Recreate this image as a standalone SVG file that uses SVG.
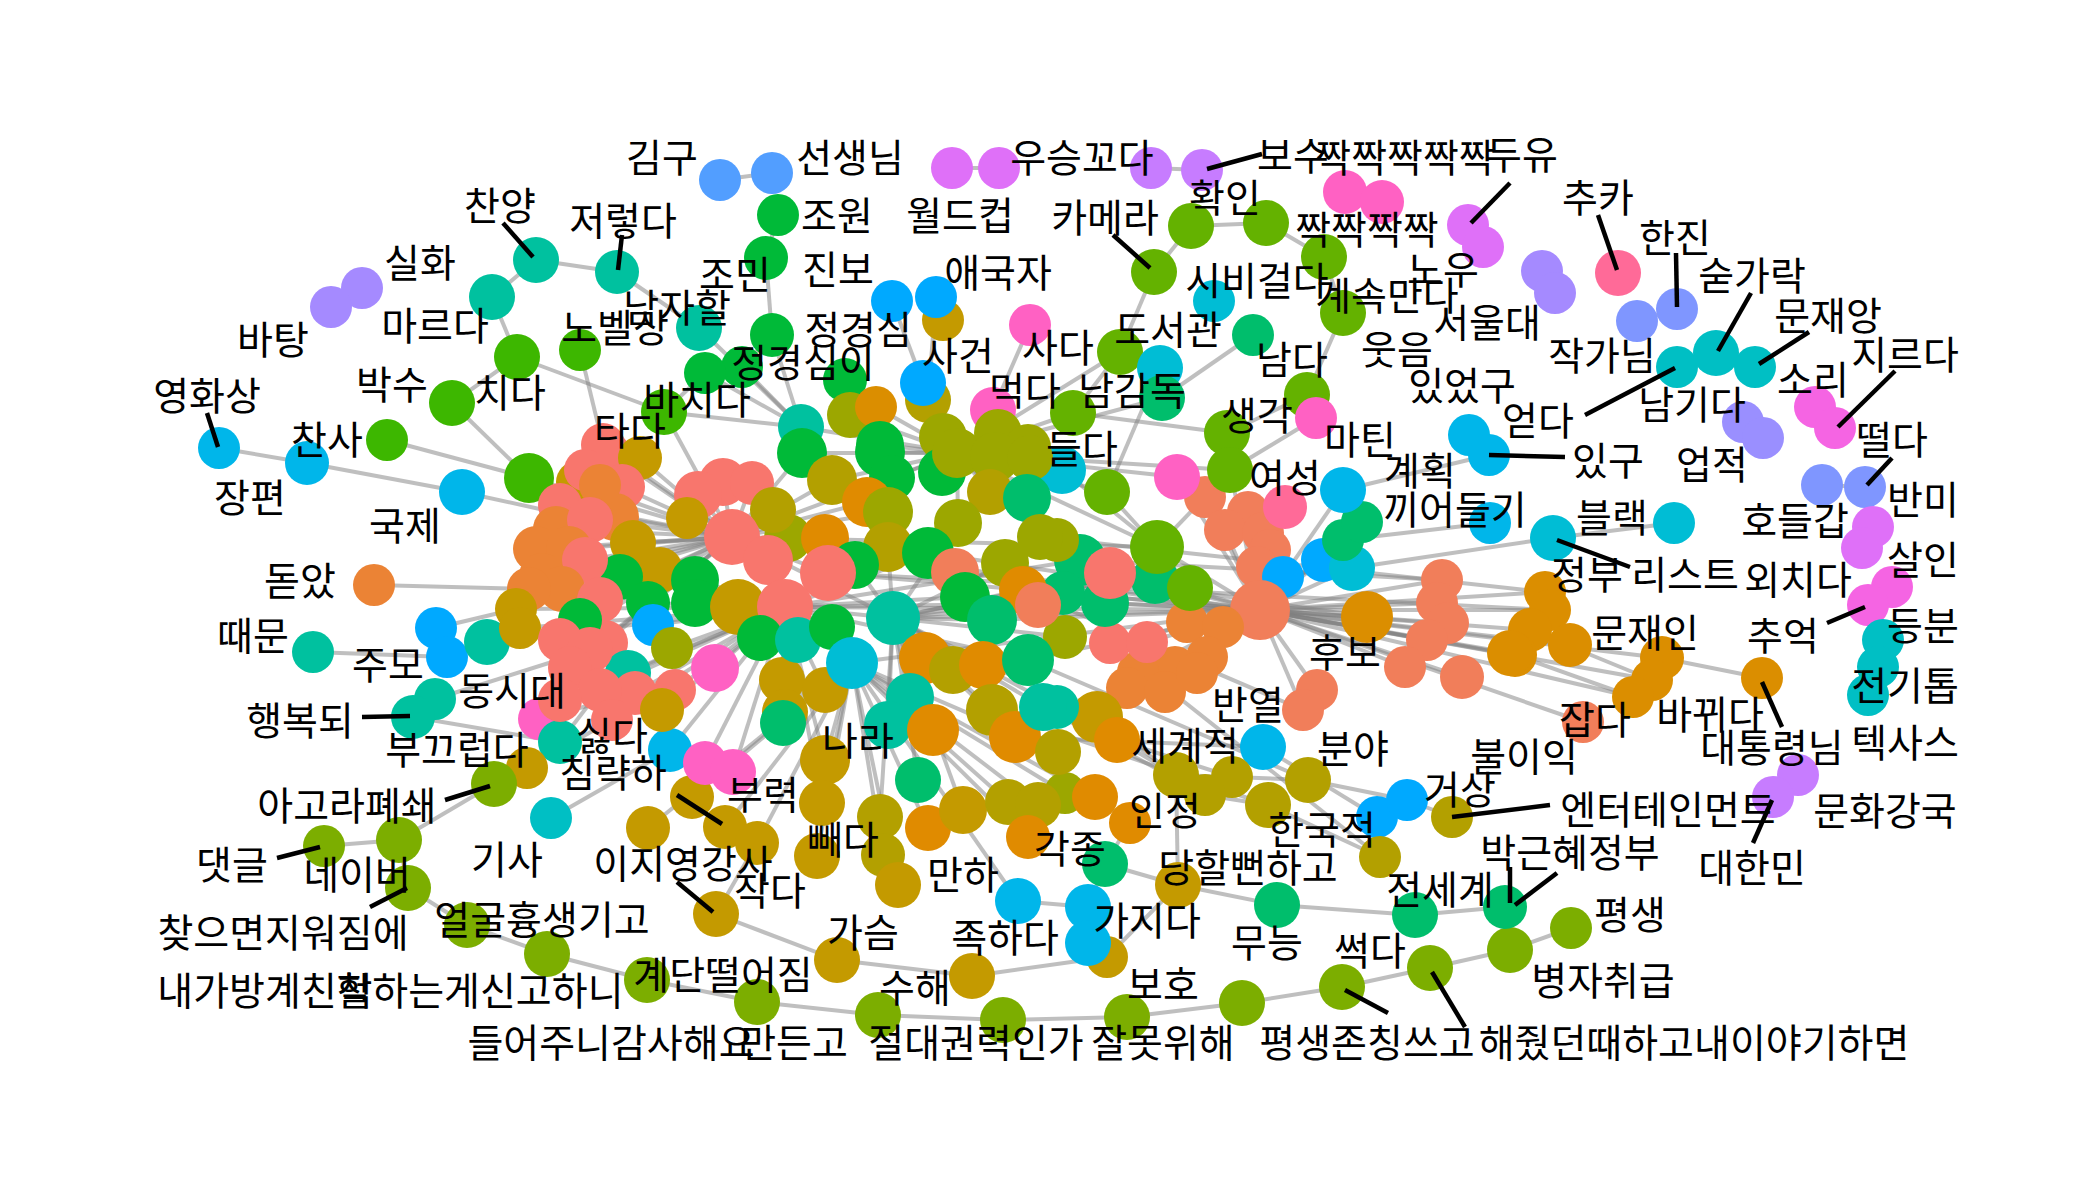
<svg xmlns="http://www.w3.org/2000/svg" width="2100" height="1200" viewBox="0 0 2100 1200">
<style>
#edges line{stroke:#7f7f7f;stroke-opacity:.5;stroke-width:4}
.ld{stroke:#000;stroke-width:4.5}
text{font-family:"Noto Sans CJK KR","Noto Sans",sans-serif;font-size:39px;text-anchor:middle;dominant-baseline:central;fill:#000}
.S{fill:#F8766D}.R{fill:#F17E5A}.O{fill:#EB8335}.D{fill:#DB8E00}.A{fill:#E08B00}.G{fill:#C49A00}.Y{fill:#B3A000}.L{fill:#9CA700}.M{fill:#7CAE00}.N{fill:#64B200}.K{fill:#3DB700}.E{fill:#00BA38}.F{fill:#00BE6C}.T{fill:#00C19F}.U{fill:#00BFC4}.C{fill:#00BDD5}.V{fill:#00B6EA}.B{fill:#00A9FF}.P{fill:#529EFF}.W{fill:#7F96FF}.X2{fill:#9A8FFF}.X{fill:#A58AFF}.Z{fill:#C77CFF}.H{fill:#DF70F8}.I{fill:#F564E3}.J{fill:#FF61C3}.Q{fill:#FF6A98}
</style>
<rect width="2100" height="1200" fill="#fff"/>
<g id="edges">
<line x1="720" y1="180" x2="772" y2="173"/><line x1="778" y1="215" x2="766" y2="258"/><line x1="766" y1="258" x2="772" y2="335"/><line x1="772" y1="335" x2="801" y2="427"/><line x1="742" y1="367" x2="801" y2="427"/><line x1="705" y1="373" x2="801" y2="427"/><line x1="742" y1="367" x2="772" y2="335"/><line x1="705" y1="373" x2="664" y2="412"/><line x1="664" y1="412" x2="801" y2="427"/><line x1="664" y1="412" x2="732" y2="537"/>
<line x1="952" y1="168" x2="999" y2="168"/><line x1="1151" y1="168" x2="1202" y2="170"/><line x1="1154" y1="272" x2="1191" y2="226"/><line x1="1191" y1="226" x2="1266" y2="223"/><line x1="1266" y1="223" x2="1324" y2="257"/><line x1="1324" y1="257" x2="1343" y2="313"/><line x1="1343" y1="313" x2="1307" y2="395"/><line x1="1154" y1="272" x2="1120" y2="352"/><line x1="1120" y1="352" x2="1073" y2="413"/><line x1="1253" y1="335" x2="1162" y2="398"/><line x1="1160" y1="368" x2="1107" y2="492"/><line x1="1073" y1="413" x2="1227" y2="433"/><line x1="1227" y1="433" x2="1307" y2="395"/><line x1="1307" y1="395" x2="1316" y2="418"/><line x1="1316" y1="418" x2="1230" y2="470"/>
<line x1="1345" y1="192" x2="1382" y2="202"/><line x1="1468" y1="225" x2="1483" y2="247"/><line x1="1542" y1="271" x2="1555" y2="293"/><line x1="1637" y1="321" x2="1677" y2="309"/><line x1="1677" y1="367" x2="1716" y2="353"/><line x1="1716" y1="353" x2="1755" y2="367"/><line x1="1815" y1="407" x2="1835" y2="428"/><line x1="1743" y1="422" x2="1763" y2="438"/><line x1="1822" y1="485" x2="1865" y2="487"/><line x1="1873" y1="527" x2="1862" y2="548"/><line x1="1892" y1="587" x2="1868" y2="605"/><line x1="1883" y1="640" x2="1878" y2="667"/><line x1="1878" y1="667" x2="1868" y2="695"/><line x1="1798" y1="775" x2="1773" y2="797"/>
<line x1="1674" y1="523" x2="1553" y2="538"/><line x1="1553" y1="538" x2="1352" y2="568"/><line x1="1469" y1="435" x2="1489" y2="455"/><line x1="1489" y1="455" x2="1343" y2="490"/><line x1="1490" y1="523" x2="1343" y2="540"/><line x1="1030" y1="325" x2="993" y2="410"/><line x1="993" y1="410" x2="1028" y2="447"/><line x1="892" y1="301" x2="923" y2="383"/><line x1="936" y1="297" x2="928" y2="400"/>
<line x1="536" y1="260" x2="492" y2="297"/><line x1="536" y1="260" x2="617" y2="272"/><line x1="617" y1="272" x2="699" y2="328"/><line x1="699" y1="328" x2="801" y2="427"/><line x1="492" y1="297" x2="517" y2="357"/><line x1="517" y1="357" x2="452" y2="403"/><line x1="452" y1="403" x2="529" y2="478"/><line x1="517" y1="357" x2="664" y2="412"/><line x1="580" y1="350" x2="603" y2="445"/><line x1="362" y1="288" x2="331" y2="307"/><line x1="387" y1="440" x2="529" y2="478"/><line x1="219" y1="448" x2="307" y2="463"/><line x1="307" y1="463" x2="462" y2="492"/><line x1="462" y1="492" x2="590" y2="520"/><line x1="374" y1="585" x2="529" y2="589"/><line x1="313" y1="652" x2="447" y2="657"/><line x1="436" y1="628" x2="447" y2="657"/><line x1="447" y1="657" x2="487" y2="642"/><line x1="436" y1="628" x2="516" y2="609"/><line x1="435" y1="699" x2="413" y2="717"/><line x1="435" y1="699" x2="590" y2="650"/><line x1="413" y1="717" x2="560" y2="742"/><line x1="539" y1="719" x2="635" y2="693"/><line x1="560" y1="742" x2="600" y2="690"/><line x1="527" y1="768" x2="494" y2="784"/><line x1="494" y1="784" x2="399" y2="840"/><line x1="399" y1="840" x2="324" y2="846"/><line x1="399" y1="840" x2="408" y2="888"/><line x1="408" y1="888" x2="467" y2="925"/><line x1="467" y1="925" x2="547" y2="954"/><line x1="547" y1="954" x2="647" y2="980"/><line x1="551" y1="818" x2="670" y2="750"/><line x1="527" y1="768" x2="612" y2="720"/>
<line x1="647" y1="980" x2="757" y2="1002"/><line x1="757" y1="1002" x2="878" y2="1015"/><line x1="878" y1="1015" x2="1003" y2="1020"/><line x1="1003" y1="1020" x2="1127" y2="1017"/><line x1="1127" y1="1017" x2="1242" y2="1003"/><line x1="1242" y1="1003" x2="1342" y2="987"/><line x1="1342" y1="987" x2="1430" y2="968"/><line x1="1430" y1="968" x2="1510" y2="950"/><line x1="1510" y1="950" x2="1571" y2="928"/>
<line x1="716" y1="914" x2="837" y2="960"/><line x1="837" y1="960" x2="972" y2="976"/><line x1="972" y1="976" x2="1107" y2="957"/><line x1="716" y1="914" x2="757" y2="843"/><line x1="1107" y1="957" x2="1178" y2="885"/><line x1="1105" y1="864" x2="1178" y2="885"/><line x1="1178" y1="885" x2="1277" y2="905"/><line x1="1277" y1="905" x2="1415" y2="915"/><line x1="1415" y1="915" x2="1505" y2="907"/><line x1="1178" y1="885" x2="1176" y2="775"/><line x1="1088" y1="907" x2="1088" y2="943"/><line x1="1088" y1="907" x2="1105" y2="864"/><line x1="1018" y1="901" x2="1088" y2="907"/>
<line x1="1176" y1="775" x2="1232" y2="777"/><line x1="1205" y1="795" x2="1268" y2="805"/><line x1="1268" y1="805" x2="1380" y2="857"/><line x1="1308" y1="780" x2="1407" y2="800"/><line x1="1263" y1="747" x2="1377" y2="817"/><line x1="1377" y1="817" x2="1407" y2="800"/><line x1="1407" y1="800" x2="1452" y2="817"/><line x1="1232" y1="777" x2="1308" y2="780"/><line x1="1176" y1="775" x2="1117" y2="740"/><line x1="1065" y1="793" x2="1095" y2="797"/><line x1="1095" y1="797" x2="1130" y2="823"/><line x1="1130" y1="823" x2="1105" y2="864"/>
<line x1="732" y1="537" x2="608" y2="453"/><line x1="732" y1="537" x2="622" y2="487"/><line x1="732" y1="537" x2="615" y2="517"/><line x1="732" y1="537" x2="556" y2="529"/><line x1="732" y1="537" x2="536" y2="549"/><line x1="732" y1="537" x2="569" y2="549"/><line x1="732" y1="537" x2="542" y2="576"/><line x1="732" y1="537" x2="562" y2="589"/><line x1="732" y1="537" x2="529" y2="589"/><line x1="732" y1="537" x2="590" y2="520"/><line x1="732" y1="537" x2="585" y2="560"/><line x1="732" y1="537" x2="600" y2="600"/><line x1="732" y1="537" x2="560" y2="640"/><line x1="732" y1="537" x2="590" y2="650"/><line x1="732" y1="537" x2="570" y2="668"/><line x1="732" y1="537" x2="529" y2="478"/><line x1="732" y1="537" x2="577" y2="482"/><line x1="732" y1="537" x2="605" y2="643"/><line x1="732" y1="537" x2="560" y2="505"/><line x1="732" y1="537" x2="603" y2="445"/><line x1="732" y1="537" x2="640" y2="458"/><line x1="732" y1="537" x2="698" y2="495"/><line x1="732" y1="537" x2="723" y2="482"/><line x1="732" y1="537" x2="752" y2="483"/><line x1="732" y1="537" x2="687" y2="518"/><line x1="732" y1="537" x2="633" y2="543"/><line x1="732" y1="537" x2="660" y2="570"/><line x1="732" y1="537" x2="768" y2="560"/><line x1="732" y1="537" x2="773" y2="510"/><line x1="732" y1="537" x2="802" y2="453"/><line x1="732" y1="537" x2="832" y2="480"/><line x1="732" y1="537" x2="867" y2="502"/><line x1="732" y1="537" x2="888" y2="512"/><line x1="732" y1="537" x2="828" y2="573"/><line x1="732" y1="537" x2="957" y2="453"/><line x1="732" y1="537" x2="893" y2="618"/><line x1="732" y1="537" x2="1157" y2="547"/><line x1="732" y1="537" x2="1260" y2="610"/>
<line x1="785" y1="607" x2="620" y2="577"/><line x1="785" y1="607" x2="648" y2="603"/><line x1="785" y1="607" x2="653" y2="625"/><line x1="785" y1="607" x2="672" y2="648"/><line x1="785" y1="607" x2="628" y2="673"/><line x1="785" y1="607" x2="635" y2="693"/><line x1="785" y1="607" x2="675" y2="690"/><line x1="785" y1="607" x2="662" y2="710"/><line x1="785" y1="607" x2="612" y2="720"/><line x1="785" y1="607" x2="560" y2="700"/><line x1="785" y1="607" x2="600" y2="690"/><line x1="785" y1="607" x2="695" y2="580"/><line x1="785" y1="607" x2="695" y2="603"/><line x1="785" y1="607" x2="738" y2="607"/><line x1="785" y1="607" x2="715" y2="668"/><line x1="785" y1="607" x2="760" y2="638"/><line x1="785" y1="607" x2="798" y2="640"/><line x1="785" y1="607" x2="832" y2="627"/><line x1="785" y1="607" x2="852" y2="663"/><line x1="785" y1="607" x2="782" y2="680"/><line x1="785" y1="607" x2="825" y2="690"/><line x1="785" y1="607" x2="783" y2="723"/><line x1="785" y1="607" x2="785" y2="712"/><line x1="785" y1="607" x2="705" y2="763"/><line x1="785" y1="607" x2="733" y2="772"/><line x1="785" y1="607" x2="670" y2="750"/><line x1="785" y1="607" x2="825" y2="760"/><line x1="785" y1="607" x2="822" y2="803"/><line x1="785" y1="607" x2="893" y2="618"/><line x1="785" y1="607" x2="928" y2="553"/><line x1="785" y1="607" x2="965" y2="597"/><line x1="785" y1="607" x2="1028" y2="660"/><line x1="785" y1="607" x2="1080" y2="560"/><line x1="785" y1="607" x2="1105" y2="603"/><line x1="785" y1="607" x2="1260" y2="610"/><line x1="785" y1="607" x2="516" y2="609"/><line x1="785" y1="607" x2="520" y2="628"/><line x1="785" y1="607" x2="487" y2="642"/>
<line x1="893" y1="618" x2="855" y2="565"/><line x1="893" y1="618" x2="888" y2="547"/><line x1="893" y1="618" x2="958" y2="523"/><line x1="893" y1="618" x2="1005" y2="563"/><line x1="893" y1="618" x2="1023" y2="590"/><line x1="893" y1="618" x2="1038" y2="605"/><line x1="893" y1="618" x2="992" y2="620"/><line x1="893" y1="618" x2="925" y2="658"/><line x1="893" y1="618" x2="953" y2="670"/><line x1="893" y1="618" x2="983" y2="665"/><line x1="893" y1="618" x2="910" y2="697"/><line x1="893" y1="618" x2="888" y2="725"/><line x1="893" y1="618" x2="933" y2="730"/><line x1="893" y1="618" x2="992" y2="710"/><line x1="893" y1="618" x2="1015" y2="737"/><line x1="893" y1="618" x2="1043" y2="707"/><line x1="893" y1="618" x2="918" y2="780"/><line x1="893" y1="618" x2="963" y2="810"/><line x1="893" y1="618" x2="880" y2="817"/><line x1="893" y1="618" x2="1065" y2="637"/><line x1="893" y1="618" x2="1057" y2="707"/><line x1="893" y1="618" x2="1097" y2="717"/><line x1="893" y1="618" x2="1063" y2="593"/><line x1="893" y1="618" x2="1110" y2="573"/>
<line x1="957" y1="453" x2="801" y2="427"/><line x1="957" y1="453" x2="850" y2="415"/><line x1="957" y1="453" x2="876" y2="407"/><line x1="957" y1="453" x2="880" y2="445"/><line x1="957" y1="453" x2="943" y2="437"/><line x1="957" y1="453" x2="998" y2="433"/><line x1="957" y1="453" x2="1028" y2="447"/><line x1="957" y1="453" x2="928" y2="400"/><line x1="957" y1="453" x2="880" y2="452"/><line x1="957" y1="453" x2="892" y2="478"/><line x1="957" y1="453" x2="942" y2="472"/><line x1="957" y1="453" x2="995" y2="457"/><line x1="957" y1="453" x2="1030" y2="458"/><line x1="957" y1="453" x2="990" y2="492"/><line x1="957" y1="453" x2="1027" y2="498"/><line x1="957" y1="453" x2="958" y2="523"/><line x1="957" y1="453" x2="1040" y2="537"/><line x1="957" y1="453" x2="1057" y2="540"/><line x1="957" y1="453" x2="1062" y2="470"/><line x1="957" y1="453" x2="1107" y2="492"/><line x1="957" y1="453" x2="1073" y2="413"/><line x1="957" y1="453" x2="1120" y2="352"/><line x1="957" y1="453" x2="1162" y2="398"/><line x1="957" y1="453" x2="1177" y2="477"/><line x1="957" y1="453" x2="1230" y2="470"/><line x1="957" y1="453" x2="1157" y2="547"/><line x1="957" y1="453" x2="802" y2="453"/><line x1="957" y1="453" x2="832" y2="480"/>
<line x1="852" y1="663" x2="825" y2="760"/><line x1="852" y1="663" x2="822" y2="803"/><line x1="852" y1="663" x2="817" y2="856"/><line x1="852" y1="663" x2="757" y2="843"/><line x1="852" y1="663" x2="725" y2="827"/><line x1="852" y1="663" x2="692" y2="797"/><line x1="852" y1="663" x2="648" y2="828"/><line x1="852" y1="663" x2="883" y2="855"/><line x1="852" y1="663" x2="898" y2="885"/><line x1="852" y1="663" x2="928" y2="828"/><line x1="852" y1="663" x2="1008" y2="802"/><line x1="852" y1="663" x2="1038" y2="805"/><line x1="852" y1="663" x2="1028" y2="837"/><line x1="852" y1="663" x2="1058" y2="752"/><line x1="852" y1="663" x2="1065" y2="793"/><line x1="852" y1="663" x2="1095" y2="797"/><line x1="852" y1="663" x2="1018" y2="901"/>
<line x1="1260" y1="610" x2="1545" y2="592"/><line x1="1260" y1="610" x2="1550" y2="610"/><line x1="1260" y1="610" x2="1530" y2="630"/><line x1="1260" y1="610" x2="1570" y2="645"/><line x1="1260" y1="610" x2="1515" y2="655"/><line x1="1260" y1="610" x2="1662" y2="658"/><line x1="1260" y1="610" x2="1652" y2="680"/><line x1="1260" y1="610" x2="1633" y2="697"/><line x1="1260" y1="610" x2="1583" y2="722"/><line x1="1260" y1="610" x2="1442" y2="580"/><line x1="1260" y1="610" x2="1437" y2="603"/><line x1="1260" y1="610" x2="1448" y2="623"/><line x1="1260" y1="610" x2="1427" y2="640"/><line x1="1260" y1="610" x2="1405" y2="667"/><line x1="1260" y1="610" x2="1462" y2="677"/><line x1="1260" y1="610" x2="1367" y2="617"/><line x1="1260" y1="610" x2="1510" y2="653"/><line x1="1260" y1="610" x2="1317" y2="690"/><line x1="1260" y1="610" x2="1303" y2="710"/><line x1="1260" y1="610" x2="1157" y2="547"/><line x1="1260" y1="610" x2="1110" y2="573"/><line x1="1260" y1="610" x2="1080" y2="560"/><line x1="1260" y1="610" x2="1105" y2="603"/><line x1="1260" y1="610" x2="1063" y2="593"/><line x1="1260" y1="610" x2="1028" y2="660"/><line x1="1260" y1="610" x2="992" y2="620"/><line x1="1260" y1="610" x2="893" y2="618"/><line x1="1260" y1="610" x2="852" y2="663"/><line x1="1260" y1="610" x2="828" y2="573"/><line x1="1260" y1="610" x2="955" y2="572"/><line x1="1260" y1="610" x2="965" y2="597"/><line x1="1260" y1="610" x2="1147" y2="642"/><line x1="1260" y1="610" x2="1110" y2="643"/><line x1="1260" y1="610" x2="1187" y2="622"/><line x1="1260" y1="610" x2="1223" y2="627"/><line x1="1260" y1="610" x2="1207" y2="657"/><line x1="1260" y1="610" x2="1175" y2="667"/><line x1="1260" y1="610" x2="1138" y2="672"/><line x1="1260" y1="610" x2="1197" y2="673"/><line x1="1260" y1="610" x2="1165" y2="692"/><line x1="1260" y1="610" x2="1205" y2="497"/><line x1="1260" y1="610" x2="1248" y2="512"/><line x1="1260" y1="610" x2="1225" y2="530"/><line x1="1260" y1="610" x2="1263" y2="533"/><line x1="1260" y1="610" x2="1270" y2="550"/><line x1="1260" y1="610" x2="1257" y2="567"/><line x1="1260" y1="610" x2="1283" y2="577"/><line x1="1260" y1="610" x2="1323" y2="560"/><line x1="1260" y1="610" x2="1352" y2="568"/><line x1="1260" y1="610" x2="1343" y2="540"/><line x1="1260" y1="610" x2="1362" y2="522"/><line x1="1260" y1="610" x2="1285" y2="507"/><line x1="1260" y1="610" x2="1343" y2="490"/><line x1="1260" y1="610" x2="1230" y2="470"/><line x1="1260" y1="610" x2="1177" y2="477"/>
<line x1="1157" y1="547" x2="1107" y2="492"/><line x1="1157" y1="547" x2="1062" y2="470"/><line x1="1157" y1="547" x2="1155" y2="580"/><line x1="1157" y1="547" x2="1190" y2="588"/><line x1="1157" y1="547" x2="1205" y2="497"/>
<line x1="1662" y1="658" x2="1762" y2="678"/><line x1="1515" y1="655" x2="1633" y2="697"/><line x1="1530" y1="630" x2="1652" y2="680"/><line x1="1040" y1="537" x2="1545" y2="592"/><line x1="1080" y1="560" x2="1442" y2="580"/><line x1="888" y1="547" x2="1367" y2="617"/><line x1="1023" y1="590" x2="1303" y2="710"/><line x1="1097" y1="717" x2="1176" y2="775"/><line x1="1117" y1="740" x2="1232" y2="777"/><line x1="1043" y1="707" x2="1205" y2="795"/><line x1="1015" y1="737" x2="1263" y2="747"/><line x1="1028" y1="660" x2="1308" y2="780"/><line x1="992" y1="710" x2="1268" y2="805"/><line x1="1110" y1="643" x2="1380" y2="857"/><line x1="828" y1="573" x2="1550" y2="610"/>
</g>
<g id="nodes">
<g id="n1"><circle class="P" cx="720" cy="180" r="21"/></g>
<g id="n2"><circle class="P" cx="772" cy="173" r="21"/></g>
<g id="n3"><circle class="E" cx="778" cy="215" r="21"/></g>
<g id="n4"><circle class="E" cx="766" cy="258" r="22"/></g>
<g id="n5"><circle class="E" cx="772" cy="335" r="22"/></g>
<g id="n6"><circle class="E" cx="742" cy="367" r="21"/></g>
<g id="n7"><circle class="E" cx="705" cy="373" r="21"/></g>
<g id="n8"><circle class="H" cx="952" cy="168" r="21"/></g>
<g id="n9"><circle class="H" cx="999" cy="168" r="21"/></g>
<g id="n10"><circle class="Z" cx="1151" cy="168" r="21"/></g>
<g id="n11"><circle class="Z" cx="1202" cy="170" r="21"/></g>
<g id="n12"><circle class="N" cx="1154" cy="272" r="23"/></g>
<g id="n13"><circle class="N" cx="1191" cy="226" r="23"/></g>
<g id="n14"><circle class="N" cx="1266" cy="223" r="23"/></g>
<g id="n15"><circle class="N" cx="1324" cy="257" r="23"/></g>
<g id="n16"><circle class="N" cx="1343" cy="313" r="23"/></g>
<g id="n17"><circle class="C" cx="1214" cy="301" r="21"/></g>
<g id="n18"><circle class="J" cx="1345" cy="192" r="22"/></g>
<g id="n19"><circle class="J" cx="1382" cy="202" r="22"/></g>
<g id="n20"><circle class="H" cx="1468" cy="225" r="21"/></g>
<g id="n21"><circle class="H" cx="1483" cy="247" r="21"/></g>
<g id="n22"><circle class="X" cx="1542" cy="271" r="21"/></g>
<g id="n23"><circle class="X" cx="1555" cy="293" r="21"/></g>
<g id="n24"><circle class="Q" cx="1618" cy="273" r="23"/></g>
<g id="n25"><circle class="W" cx="1637" cy="321" r="21"/></g>
<g id="n26"><circle class="W" cx="1677" cy="309" r="21"/></g>
<g id="n27"><circle class="U" cx="1677" cy="367" r="21"/></g>
<g id="n28"><circle class="U" cx="1716" cy="353" r="23"/></g>
<g id="n29"><circle class="U" cx="1755" cy="367" r="21"/></g>
<g id="n30"><circle class="I" cx="1815" cy="407" r="21"/></g>
<g id="n31"><circle class="I" cx="1835" cy="428" r="21"/></g>
<g id="n32"><circle class="X2" cx="1743" cy="422" r="21"/></g>
<g id="n33"><circle class="X2" cx="1763" cy="438" r="21"/></g>
<g id="n34"><circle class="W" cx="1822" cy="485" r="21"/></g>
<g id="n35"><circle class="W" cx="1865" cy="487" r="21"/></g>
<g id="n36"><circle class="H" cx="1873" cy="527" r="21"/></g>
<g id="n37"><circle class="H" cx="1862" cy="548" r="21"/></g>
<g id="n38"><circle class="I" cx="1892" cy="587" r="21"/></g>
<g id="n39"><circle class="I" cx="1868" cy="605" r="21"/></g>
<g id="n40"><circle class="U" cx="1883" cy="640" r="21"/></g>
<g id="n41"><circle class="U" cx="1878" cy="667" r="21"/></g>
<g id="n42"><circle class="U" cx="1868" cy="695" r="21"/></g>
<g id="n43"><circle class="Z" cx="1798" cy="775" r="21"/></g>
<g id="n44"><circle class="Z" cx="1773" cy="797" r="21"/></g>
<g id="n45"><circle class="C" cx="1674" cy="523" r="21"/></g>
<g id="n46"><circle class="C" cx="1553" cy="538" r="23"/></g>
<g id="n47"><circle class="V" cx="1469" cy="435" r="21"/></g>
<g id="n48"><circle class="V" cx="1489" cy="455" r="21"/></g>
<g id="n49"><circle class="V" cx="1490" cy="523" r="21"/></g>
<g id="n50"><circle class="F" cx="1253" cy="335" r="21"/></g>
<g id="n51"><circle class="N" cx="1120" cy="352" r="23"/></g>
<g id="n52"><circle class="C" cx="1160" cy="368" r="23"/></g>
<g id="n53"><circle class="F" cx="1162" cy="398" r="23"/></g>
<g id="n54"><circle class="N" cx="1307" cy="395" r="23"/></g>
<g id="n55"><circle class="J" cx="1316" cy="418" r="21"/></g>
<g id="n56"><circle class="N" cx="1227" cy="433" r="23"/></g>
<g id="n57"><circle class="N" cx="1073" cy="413" r="23"/></g>
<g id="n58"><circle class="J" cx="1030" cy="325" r="21"/></g>
<g id="n59"><circle class="J" cx="993" cy="410" r="23"/></g>
<g id="n60"><circle class="B" cx="892" cy="301" r="21"/></g>
<g id="n62"><circle class="G" cx="943" cy="320" r="21"/></g>
<g id="n61"><circle class="B" cx="936" cy="297" r="21"/></g>
<g id="n64"><circle class="Y" cx="928" cy="400" r="23"/></g>
<g id="n63"><circle class="B" cx="923" cy="383" r="23"/></g>
<g id="n65"><circle class="T" cx="536" cy="260" r="23"/></g>
<g id="n66"><circle class="T" cx="617" cy="272" r="22"/></g>
<g id="n67"><circle class="T" cx="492" cy="297" r="23"/></g>
<g id="n68"><circle class="T" cx="699" cy="328" r="23"/></g>
<g id="n69"><circle class="X" cx="362" cy="288" r="21"/></g>
<g id="n70"><circle class="X" cx="331" cy="307" r="21"/></g>
<g id="n71"><circle class="K" cx="517" cy="357" r="23"/></g>
<g id="n72"><circle class="K" cx="580" cy="350" r="21"/></g>
<g id="n73"><circle class="K" cx="452" cy="403" r="23"/></g>
<g id="n74"><circle class="K" cx="387" cy="440" r="21"/></g>
<g id="n75"><circle class="V" cx="219" cy="448" r="21"/></g>
<g id="n76"><circle class="V" cx="307" cy="463" r="22"/></g>
<g id="n77"><circle class="V" cx="462" cy="492" r="23"/></g>
<g id="n78"><circle class="O" cx="374" cy="585" r="21"/></g>
<g id="n79"><circle class="T" cx="313" cy="652" r="21"/></g>
<g id="n80"><circle class="B" cx="436" cy="628" r="21"/></g>
<g id="n81"><circle class="B" cx="447" cy="657" r="21"/></g>
<g id="n82"><circle class="T" cx="487" cy="642" r="23"/></g>
<g id="n83"><circle class="T" cx="435" cy="699" r="21"/></g>
<g id="n84"><circle class="T" cx="413" cy="717" r="22"/></g>
<g id="n85"><circle class="J" cx="539" cy="719" r="21"/></g>
<g id="n86"><circle class="T" cx="560" cy="742" r="22"/></g>
<g id="n87"><circle class="G" cx="527" cy="768" r="21"/></g>
<g id="n88"><circle class="M" cx="494" cy="784" r="23"/></g>
<g id="n89"><circle class="M" cx="399" cy="840" r="23"/></g>
<g id="n90"><circle class="M" cx="324" cy="846" r="21"/></g>
<g id="n91"><circle class="M" cx="408" cy="888" r="23"/></g>
<g id="n92"><circle class="M" cx="467" cy="925" r="23"/></g>
<g id="n93"><circle class="M" cx="547" cy="954" r="23"/></g>
<g id="n94"><circle class="U" cx="551" cy="818" r="21"/></g>
<g id="n95"><circle class="M" cx="647" cy="980" r="23"/></g>
<g id="n96"><circle class="M" cx="757" cy="1002" r="23"/></g>
<g id="n97"><circle class="M" cx="878" cy="1015" r="23"/></g>
<g id="n98"><circle class="M" cx="1003" cy="1020" r="23"/></g>
<g id="n99"><circle class="M" cx="1127" cy="1017" r="23"/></g>
<g id="n100"><circle class="M" cx="1242" cy="1003" r="23"/></g>
<g id="n101"><circle class="M" cx="1342" cy="987" r="23"/></g>
<g id="n102"><circle class="M" cx="1430" cy="968" r="23"/></g>
<g id="n103"><circle class="M" cx="1510" cy="950" r="23"/></g>
<g id="n104"><circle class="M" cx="1571" cy="928" r="21"/></g>
<g id="n105"><circle class="G" cx="716" cy="914" r="23"/></g>
<g id="n106"><circle class="G" cx="837" cy="960" r="23"/></g>
<g id="n107"><circle class="G" cx="972" cy="976" r="23"/></g>
<g id="n108"><circle class="G" cx="1107" cy="957" r="21"/></g>
<g id="n109"><circle class="V" cx="1088" cy="907" r="23"/></g>
<g id="n110"><circle class="V" cx="1088" cy="943" r="23"/></g>
<g id="n111"><circle class="V" cx="1018" cy="901" r="23"/></g>
<g id="n112"><circle class="F" cx="1105" cy="864" r="23"/></g>
<g id="n113"><circle class="G" cx="1178" cy="885" r="23"/></g>
<g id="n114"><circle class="F" cx="1277" cy="905" r="23"/></g>
<g id="n115"><circle class="F" cx="1415" cy="915" r="23"/></g>
<g id="n116"><circle class="F" cx="1505" cy="907" r="22"/></g>
<g id="n117"><circle class="V" cx="1263" cy="747" r="23"/></g>
<g id="n118"><circle class="B" cx="1377" cy="817" r="21"/></g>
<g id="n119"><circle class="B" cx="1407" cy="800" r="21"/></g>
<g id="n120"><circle class="Y" cx="1452" cy="817" r="21"/></g>
<g id="n121"><circle class="Y" cx="1380" cy="857" r="21"/></g>
<g id="n122"><circle class="Y" cx="1308" cy="780" r="23"/></g>
<g id="n123"><circle class="Y" cx="1268" cy="805" r="23"/></g>
<g id="n124"><circle class="Y" cx="1232" cy="777" r="21"/></g>
<g id="n125"><circle class="Y" cx="1205" cy="795" r="21"/></g>
<g id="n126"><circle class="Y" cx="1176" cy="775" r="23"/></g>
<g id="n127"><circle class="L" cx="1065" cy="793" r="21"/></g>
<g id="n128"><circle class="A" cx="1095" cy="797" r="23"/></g>
<g id="n129"><circle class="A" cx="1130" cy="823" r="21"/></g>
<g id="n130"><circle class="D" cx="1762" cy="678" r="21"/></g>
<g id="n131"><circle class="R" cx="1583" cy="722" r="21"/></g>
<g id="n132"><circle class="D" cx="1545" cy="592" r="21"/></g>
<g id="n133"><circle class="D" cx="1550" cy="610" r="21"/></g>
<g id="n134"><circle class="D" cx="1530" cy="630" r="22"/></g>
<g id="n135"><circle class="D" cx="1570" cy="645" r="22"/></g>
<g id="n136"><circle class="D" cx="1515" cy="655" r="22"/></g>
<g id="n137"><circle class="D" cx="1662" cy="658" r="22"/></g>
<g id="n138"><circle class="D" cx="1652" cy="680" r="21"/></g>
<g id="n139"><circle class="D" cx="1633" cy="697" r="21"/></g>
<g id="n140"><circle class="R" cx="1442" cy="580" r="21"/></g>
<g id="n141"><circle class="R" cx="1437" cy="603" r="21"/></g>
<g id="n142"><circle class="R" cx="1448" cy="623" r="21"/></g>
<g id="n143"><circle class="R" cx="1427" cy="640" r="21"/></g>
<g id="n144"><circle class="R" cx="1405" cy="667" r="21"/></g>
<g id="n145"><circle class="R" cx="1462" cy="677" r="22"/></g>
<g id="n146"><circle class="D" cx="1367" cy="617" r="26"/></g>
<g id="n147"><circle class="D" cx="1510" cy="653" r="23"/></g>
<g id="n148"><circle class="R" cx="1317" cy="690" r="21"/></g>
<g id="n149"><circle class="R" cx="1303" cy="710" r="21"/></g>
<g id="n150"><circle class="R" cx="1205" cy="497" r="21"/></g>
<g id="n151"><circle class="R" cx="1248" cy="512" r="21"/></g>
<g id="n152"><circle class="R" cx="1225" cy="530" r="21"/></g>
<g id="n153"><circle class="R" cx="1263" cy="533" r="21"/></g>
<g id="n154"><circle class="R" cx="1270" cy="550" r="21"/></g>
<g id="n155"><circle class="R" cx="1257" cy="567" r="21"/></g>
<g id="n156"><circle class="B" cx="1283" cy="577" r="21"/></g>
<g id="n157"><circle class="B" cx="1323" cy="560" r="22"/></g>
<g id="n158"><circle class="C" cx="1352" cy="568" r="23"/></g>
<g id="n159"><circle class="F" cx="1343" cy="540" r="21"/></g>
<g id="n160"><circle class="F" cx="1362" cy="522" r="21"/></g>
<g id="n161"><circle class="V" cx="1343" cy="490" r="23"/></g>
<g id="n162"><circle class="Q" cx="1285" cy="507" r="22"/></g>
<g id="n163"><circle class="R" cx="1260" cy="610" r="30"/></g>
<g id="n164"><circle class="O" cx="1187" cy="622" r="21"/></g>
<g id="n165"><circle class="O" cx="1223" cy="627" r="21"/></g>
<g id="n166"><circle class="O" cx="1207" cy="657" r="21"/></g>
<g id="n167"><circle class="O" cx="1175" cy="667" r="21"/></g>
<g id="n168"><circle class="O" cx="1138" cy="672" r="21"/></g>
<g id="n169"><circle class="O" cx="1127" cy="688" r="21"/></g>
<g id="n170"><circle class="O" cx="1165" cy="692" r="21"/></g>
<g id="n171"><circle class="O" cx="1197" cy="673" r="21"/></g>
<g id="n172"><circle class="S" cx="1110" cy="643" r="21"/></g>
<g id="n173"><circle class="S" cx="1147" cy="642" r="21"/></g>
<g id="n174"><circle class="F" cx="1155" cy="580" r="24"/></g>
<g id="n175"><circle class="N" cx="1157" cy="547" r="27"/></g>
<g id="n176"><circle class="N" cx="1190" cy="588" r="23"/></g>
<g id="n177"><circle class="F" cx="1105" cy="603" r="24"/></g>
<g id="n178"><circle class="F" cx="1080" cy="560" r="26"/></g>
<g id="n179"><circle class="F" cx="1063" cy="593" r="22"/></g>
<g id="n180"><circle class="N" cx="1107" cy="492" r="23"/></g>
<g id="n181"><circle class="N" cx="1230" cy="470" r="23"/></g>
<g id="n182"><circle class="J" cx="1177" cy="477" r="23"/></g>
<g id="n183"><circle class="C" cx="1062" cy="470" r="24"/></g>
<g id="n184"><circle class="L" cx="1065" cy="637" r="22"/></g>
<g id="n185"><circle class="G" cx="1097" cy="717" r="26"/></g>
<g id="n186"><circle class="A" cx="1117" cy="740" r="23"/></g>
<g id="n187"><circle class="T" cx="1057" cy="707" r="22"/></g>
<g id="n188"><circle class="L" cx="1057" cy="540" r="22"/></g>
<g id="n189"><circle class="S" cx="1110" cy="573" r="26"/></g>
<g id="n190"><circle class="T" cx="801" cy="427" r="23"/></g>
<g id="n191"><circle class="E" cx="845" cy="380" r="22"/></g>
<g id="n192"><circle class="L" cx="850" cy="415" r="23"/></g>
<g id="n193"><circle class="D" cx="876" cy="407" r="21"/></g>
<g id="n194"><circle class="E" cx="880" cy="445" r="24"/></g>
<g id="n195"><circle class="L" cx="943" cy="437" r="24"/></g>
<g id="n196"><circle class="L" cx="998" cy="433" r="24"/></g>
<g id="n197"><circle class="L" cx="1028" cy="447" r="23"/></g>
<g id="n198"><circle class="E" cx="802" cy="453" r="25"/></g>
<g id="n199"><circle class="E" cx="880" cy="452" r="25"/></g>
<g id="n200"><circle class="Y" cx="832" cy="480" r="25"/></g>
<g id="n201"><circle class="E" cx="892" cy="478" r="23"/></g>
<g id="n202"><circle class="A" cx="867" cy="502" r="25"/></g>
<g id="n203"><circle class="L" cx="888" cy="512" r="25"/></g>
<g id="n204"><circle class="Y" cx="888" cy="547" r="25"/></g>
<g id="n205"><circle class="L" cx="788" cy="538" r="24"/></g>
<g id="n206"><circle class="A" cx="825" cy="538" r="24"/></g>
<g id="n207"><circle class="E" cx="855" cy="565" r="24"/></g>
<g id="n208"><circle class="S" cx="828" cy="573" r="28"/></g>
<g id="n209"><circle class="E" cx="942" cy="472" r="24"/></g>
<g id="n210"><circle class="L" cx="957" cy="453" r="25"/></g>
<g id="n211"><circle class="L" cx="995" cy="457" r="25"/></g>
<g id="n212"><circle class="L" cx="1030" cy="458" r="23"/></g>
<g id="n213"><circle class="Y" cx="990" cy="492" r="23"/></g>
<g id="n214"><circle class="F" cx="1027" cy="498" r="24"/></g>
<g id="n215"><circle class="L" cx="958" cy="523" r="24"/></g>
<g id="n216"><circle class="E" cx="928" cy="553" r="26"/></g>
<g id="n217"><circle class="R" cx="955" cy="572" r="24"/></g>
<g id="n218"><circle class="E" cx="965" cy="597" r="25"/></g>
<g id="n219"><circle class="L" cx="1005" cy="563" r="24"/></g>
<g id="n220"><circle class="L" cx="1040" cy="537" r="23"/></g>
<g id="n221"><circle class="A" cx="1023" cy="590" r="24"/></g>
<g id="n222"><circle class="R" cx="1038" cy="605" r="23"/></g>
<g id="n223"><circle class="T" cx="893" cy="618" r="27"/></g>
<g id="n224"><circle class="F" cx="992" cy="620" r="25"/></g>
<g id="n225"><circle class="A" cx="925" cy="658" r="26"/></g>
<g id="n226"><circle class="Y" cx="953" cy="670" r="24"/></g>
<g id="n227"><circle class="A" cx="983" cy="665" r="24"/></g>
<g id="n228"><circle class="F" cx="1028" cy="660" r="26"/></g>
<g id="n229"><circle class="T" cx="910" cy="697" r="24"/></g>
<g id="n230"><circle class="T" cx="888" cy="725" r="24"/></g>
<g id="n231"><circle class="A" cx="933" cy="730" r="26"/></g>
<g id="n232"><circle class="Y" cx="992" cy="710" r="26"/></g>
<g id="n233"><circle class="A" cx="1015" cy="737" r="26"/></g>
<g id="n234"><circle class="T" cx="1043" cy="707" r="24"/></g>
<g id="n235"><circle class="Y" cx="1058" cy="752" r="23"/></g>
<g id="n236"><circle class="G" cx="692" cy="797" r="22"/></g>
<g id="n237"><circle class="G" cx="648" cy="828" r="22"/></g>
<g id="n238"><circle class="G" cx="725" cy="827" r="22"/></g>
<g id="n239"><circle class="G" cx="757" cy="843" r="22"/></g>
<g id="n240"><circle class="G" cx="825" cy="760" r="25"/></g>
<g id="n241"><circle class="G" cx="822" cy="803" r="23"/></g>
<g id="n242"><circle class="G" cx="817" cy="856" r="23"/></g>
<g id="n243"><circle class="Y" cx="880" cy="817" r="23"/></g>
<g id="n244"><circle class="Y" cx="883" cy="855" r="22"/></g>
<g id="n245"><circle class="G" cx="898" cy="885" r="23"/></g>
<g id="n246"><circle class="F" cx="918" cy="780" r="23"/></g>
<g id="n247"><circle class="A" cx="928" cy="828" r="23"/></g>
<g id="n248"><circle class="G" cx="963" cy="810" r="24"/></g>
<g id="n249"><circle class="Y" cx="1008" cy="802" r="23"/></g>
<g id="n250"><circle class="Y" cx="1038" cy="805" r="23"/></g>
<g id="n251"><circle class="A" cx="1028" cy="837" r="22"/></g>
<g id="n252"><circle class="V" cx="670" cy="750" r="22"/></g>
<g id="n253"><circle class="J" cx="705" cy="763" r="22"/></g>
<g id="n254"><circle class="J" cx="733" cy="772" r="23"/></g>
<g id="n255"><circle class="G" cx="782" cy="680" r="23"/></g>
<g id="n256"><circle class="G" cx="785" cy="712" r="23"/></g>
<g id="n257"><circle class="F" cx="783" cy="723" r="23"/></g>
<g id="n258"><circle class="G" cx="825" cy="690" r="23"/></g>
<g id="n259"><circle class="S" cx="603" cy="445" r="22"/></g>
<g id="n260"><circle class="S" cx="608" cy="453" r="22"/></g>
<g id="n261"><circle class="G" cx="640" cy="458" r="22"/></g>
<g id="n262"><circle class="S" cx="622" cy="487" r="23"/></g>
<g id="n263"><circle class="O" cx="615" cy="517" r="24"/></g>
<g id="n264"><circle class="S" cx="723" cy="482" r="24"/></g>
<g id="n265"><circle class="S" cx="752" cy="483" r="22"/></g>
<g id="n266"><circle class="S" cx="698" cy="495" r="24"/></g>
<g id="n267"><circle class="Y" cx="773" cy="510" r="23"/></g>
<g id="n268"><circle class="G" cx="687" cy="518" r="21"/></g>
<g id="n269"><circle class="S" cx="732" cy="537" r="28"/></g>
<g id="n270"><circle class="G" cx="633" cy="543" r="23"/></g>
<g id="n271"><circle class="G" cx="660" cy="570" r="23"/></g>
<g id="n272"><circle class="E" cx="620" cy="577" r="23"/></g>
<g id="n273"><circle class="E" cx="695" cy="580" r="24"/></g>
<g id="n274"><circle class="E" cx="695" cy="603" r="24"/></g>
<g id="n275"><circle class="E" cx="648" cy="603" r="22"/></g>
<g id="n276"><circle class="S" cx="768" cy="560" r="25"/></g>
<g id="n277"><circle class="G" cx="738" cy="607" r="28"/></g>
<g id="n278"><circle class="S" cx="785" cy="607" r="28"/></g>
<g id="n279"><circle class="B" cx="653" cy="625" r="21"/></g>
<g id="n280"><circle class="L" cx="672" cy="648" r="21"/></g>
<g id="n281"><circle class="J" cx="715" cy="668" r="24"/></g>
<g id="n282"><circle class="S" cx="605" cy="643" r="23"/></g>
<g id="n283"><circle class="T" cx="628" cy="673" r="23"/></g>
<g id="n284"><circle class="S" cx="675" cy="690" r="21"/></g>
<g id="n285"><circle class="S" cx="635" cy="693" r="22"/></g>
<g id="n286"><circle class="G" cx="662" cy="710" r="22"/></g>
<g id="n287"><circle class="E" cx="760" cy="638" r="23"/></g>
<g id="n288"><circle class="T" cx="798" cy="640" r="23"/></g>
<g id="n289"><circle class="E" cx="832" cy="627" r="23"/></g>
<g id="n290"><circle class="C" cx="852" cy="663" r="26"/></g>
<g id="n291"><circle class="K" cx="529" cy="478" r="25"/></g>
<g id="n292"><circle class="G" cx="577" cy="482" r="21"/></g>
<g id="n293"><circle class="S" cx="585" cy="470" r="21"/></g>
<g id="n294"><circle class="O" cx="600" cy="485" r="21"/></g>
<g id="n295"><circle class="S" cx="560" cy="505" r="22"/></g>
<g id="n296"><circle class="O" cx="556" cy="529" r="23"/></g>
<g id="n297"><circle class="S" cx="590" cy="520" r="23"/></g>
<g id="n298"><circle class="O" cx="536" cy="549" r="23"/></g>
<g id="n299"><circle class="O" cx="569" cy="549" r="23"/></g>
<g id="n300"><circle class="S" cx="585" cy="560" r="23"/></g>
<g id="n301"><circle class="O" cx="542" cy="576" r="23"/></g>
<g id="n302"><circle class="O" cx="562" cy="589" r="23"/></g>
<g id="n303"><circle class="O" cx="529" cy="589" r="22"/></g>
<g id="n304"><circle class="S" cx="600" cy="600" r="23"/></g>
<g id="n305"><circle class="G" cx="516" cy="609" r="21"/></g>
<g id="n306"><circle class="G" cx="520" cy="628" r="21"/></g>
<g id="n307"><circle class="E" cx="580" cy="620" r="22"/></g>
<g id="n308"><circle class="S" cx="560" cy="640" r="22"/></g>
<g id="n309"><circle class="S" cx="590" cy="650" r="23"/></g>
<g id="n310"><circle class="S" cx="570" cy="668" r="22"/></g>
<g id="n311"><circle class="S" cx="600" cy="690" r="22"/></g>
<g id="n312"><circle class="S" cx="560" cy="700" r="22"/></g>
<g id="n313"><circle class="S" cx="612" cy="720" r="21"/></g>
<g id="n314"><circle class="K" cx="664" cy="412" r="23"/></g>
</g>
<g id="labels">
<line class="ld" x1="503" y1="223" x2="533" y2="257"/><line class="ld" x1="622" y1="235" x2="618" y2="270"/><line class="ld" x1="207" y1="413" x2="218" y2="447"/><line class="ld" x1="1113" y1="235" x2="1150" y2="268"/><line class="ld" x1="1262" y1="154" x2="1207" y2="169"/><line class="ld" x1="1510" y1="183" x2="1471" y2="223"/><line class="ld" x1="1598" y1="215" x2="1617" y2="270"/><line class="ld" x1="1676" y1="253" x2="1677" y2="307"/><line class="ld" x1="1751" y1="293" x2="1718" y2="351"/><line class="ld" x1="1809" y1="332" x2="1759" y2="364"/><line class="ld" x1="1585" y1="415" x2="1675" y2="368"/><line class="ld" x1="1895" y1="371" x2="1838" y2="427"/><line class="ld" x1="1489" y1="455" x2="1565" y2="457"/><line class="ld" x1="1892" y1="458" x2="1867" y2="485"/><line class="ld" x1="1557" y1="540" x2="1630" y2="567"/><line class="ld" x1="1865" y1="607" x2="1827" y2="623"/><line class="ld" x1="1762" y1="682" x2="1782" y2="727"/><line class="ld" x1="1452" y1="817" x2="1550" y2="805"/><line class="ld" x1="1772" y1="800" x2="1753" y2="843"/><line class="ld" x1="1557" y1="873" x2="1515" y2="905"/><line class="ld" x1="1510" y1="867" x2="1510" y2="903"/><line class="ld" x1="1345" y1="990" x2="1388" y2="1013"/><line class="ld" x1="1432" y1="972" x2="1465" y2="1027"/><line class="ld" x1="445" y1="800" x2="490" y2="786"/><line class="ld" x1="277" y1="858" x2="320" y2="847"/><line class="ld" x1="407" y1="888" x2="370" y2="907"/><line class="ld" x1="362" y1="717" x2="410" y2="716"/><line class="ld" x1="677" y1="795" x2="722" y2="824"/><line class="ld" x1="677" y1="882" x2="713" y2="912"/>
<text x="662" y="155">김구</text><text x="850" y="155">선생님</text><text x="1082" y="155">우승꼬다</text><text x="1293" y="153">보수</text><text x="1405" y="155">짝짝짝짝짝</text><text x="1522" y="152">두유</text>
<text x="500" y="203">찬양</text><text x="623" y="218">저렇다</text><text x="837" y="213">조원</text><text x="960" y="213">월드컵</text><text x="1105" y="215">카메라</text><text x="1225" y="195">확인</text><text x="1367" y="227">짝짝짝짝</text><text x="1598" y="195">추카</text><text x="1675" y="235">한진</text>
<text x="420" y="260">실화</text><text x="735" y="272">조민</text><text x="838" y="267">진보</text><text x="998" y="270">애국자</text><text x="1257" y="278">시비걸다</text><text x="1387" y="293">계속만다</text><text x="1443" y="267">노우</text><text x="1752" y="273">숟가락</text>
<text x="435" y="323">마르다</text><text x="677" y="305">남자할</text><text x="615" y="325">노벨상</text><text x="858" y="327">정경심</text><text x="1058" y="345">사다</text><text x="1168" y="327">도서관</text><text x="1487" y="320">서울대</text><text x="1828" y="313">문재앙</text>
<text x="273" y="337">바탕</text><text x="392" y="382">박수</text><text x="510" y="390">치다</text><text x="803" y="360">정경심이</text><text x="958" y="353">사건</text><text x="1292" y="357">남다</text><text x="1397" y="347">웃음</text><text x="1602" y="353">작가님</text><text x="1905" y="352">지르다</text><text x="1813" y="377">소리</text>
<text x="207" y="393">영화상</text><text x="697" y="397">바치다</text><text x="1025" y="388">먹다</text><text x="1132" y="388">남감독</text><text x="1462" y="383">있었구</text><text x="1692" y="402">남기다</text><text x="1538" y="418">얻다</text><text x="1257" y="413">생각</text><text x="1892" y="437">떨다</text>
<text x="327" y="437">찬사</text><text x="630" y="428">타다</text><text x="1360" y="437">마틴</text><text x="1082" y="446">들다</text><text x="1608" y="458">있구</text><text x="1712" y="462">업적</text><text x="1285" y="475">여성</text><text x="1420" y="468">계획</text><text x="1923" y="497">반미</text>
<text x="250" y="495">장편</text><text x="1455" y="507">끼어들기</text><text x="1612" y="515">블랙</text><text x="1795" y="518">호들갑</text><text x="405" y="523">국제</text>
<text x="1587" y="572">정부</text><text x="1685" y="572">리스트</text><text x="1798" y="577">외치다</text><text x="1923" y="557">살인</text><text x="300" y="578">돋았</text>
<text x="1645" y="630">문재인</text><text x="1783" y="633">추억</text><text x="1923" y="623">등분</text><text x="253" y="633">때문</text><text x="1345" y="650">후보</text><text x="388" y="662">주모</text>
<text x="512" y="688">동시대</text><text x="1248" y="702">반열</text><text x="1905" y="683">전기톱</text><text x="300" y="718">행복되</text><text x="1595" y="717">잡다</text><text x="1710" y="712">바뀌다</text><text x="612" y="733">싫다</text>
<text x="1772" y="745">대통령님</text><text x="1905" y="740">텍사스</text><text x="457" y="747">부끄럽다</text><text x="1185" y="743">세계적</text><text x="1353" y="746">분야</text><text x="858" y="738">나라</text><text x="1524" y="754">불이익</text>
<text x="613" y="770">침략하</text><text x="763" y="792">부력</text><text x="1460" y="787">거상</text><text x="347" y="803">아고라폐쇄</text><text x="1668" y="807">엔터테인먼트</text><text x="1885" y="808">문화강국</text><text x="1165" y="808">인정</text>
<text x="1322" y="827">한국적</text><text x="843" y="837">빼다</text><text x="683" y="861">이지영강사</text><text x="507" y="857">기사</text><text x="232" y="862">댓글</text><text x="1570" y="850">박근혜정부</text><text x="1070" y="846">각종</text>
<text x="963" y="872">만하</text><text x="357" y="872">네이버</text><text x="1248" y="865">당할뻔하고</text><text x="1752" y="865">대한민</text><text x="770" y="888">작다</text><text x="1440" y="887">전세계</text>
<text x="283" y="930">찾으면지워짐에</text><text x="542" y="917">얼굴흉생기고</text><text x="1630" y="912">평생</text><text x="1147" y="918">가지다</text><text x="863" y="930">가슴</text><text x="1005" y="935">족하다</text><text x="1267" y="940">무능</text><text x="1370" y="948">썩다</text>
<text x="1603" y="978">병자취급</text><text x="723" y="972">계단떨어짐</text><text x="915" y="985">수해</text><text x="1163" y="982">보호</text>
<text x="265" y="988">내가방계친척</text><text x="480" y="988">할하는게신고하니</text>
<text x="611" y="1040">들어주니감사해요</text><text x="794" y="1040">만든고</text><text x="976" y="1040">절대권력인가</text><text x="1163" y="1040">잘못위해</text>
<text x="1367" y="1040">평생존칭쓰고</text><text x="1694" y="1040">해줬던때하고내이야기하면</text>
</g>
</svg>
